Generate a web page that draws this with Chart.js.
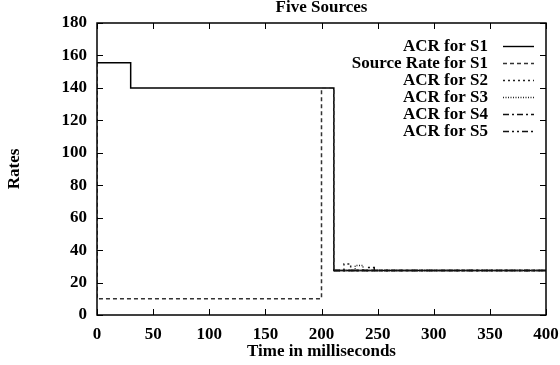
<!DOCTYPE html>
<html><head><meta charset="utf-8">
<script src="https://cdn.jsdelivr.net/npm/chart.js@4"></script>
<style>html,body{margin:0;padding:0;background:#fff}#c{display:block}</style>
</head><body>
<canvas id="c" width="560" height="365"></canvas>
<script>
const chartTitle = "Five Sources";
const xTitle = "Time in milliseconds";
const yTitle = "Rates";
const xTicks = [0, 50, 100, 150, 200, 250, 300, 350, 400];
const yTicks = [0, 20, 40, 60, 80, 100, 120, 140, 160, 180];

const seriesLabels = ["ACR for S1", "Source Rate for S1", "ACR for S2", "ACR for S3", "ACR for S4", "ACR for S5"];

const acrS1Time = [0, 30, 30, 211, 211, 400];
const acrS1Rate = [155.5, 155.5, 140, 140, 27.5, 27.5];

const srcS1Time = [0, 0, 200, 200, 211, 211, 400];
const srcS1Rate = [155.5, 10, 10, 140, 140, 27.5, 27.5];

const acrS2Time = [211, 220, 220, 226, 226, 400];
const acrS2Rate = [27.5, 27.5, 31.5, 31.5, 27.5, 27.5];

const acrS3Time = [211, 230, 230, 237, 237, 400];
const acrS3Rate = [27.5, 27.5, 30.5, 30.5, 27.5, 27.5];

const acrS4Time = [211, 241, 241, 247, 247, 400];
const acrS4Rate = [27.5, 27.5, 29.3, 29.3, 27.5, 27.5];

const acrS5Time = [211, 400];
const acrS5Rate = [27.5, 27.5];

const dashes = [[], [4, 3], [2, 3], [1, 1.5], [6, 3, 2, 3], [6, 3, 2, 3, 2, 3]];
const colors = ["#000", "#333", "#222", "#222", "#111", "#111"];

const pts = (xs, ys) => xs.map((x, i) => ({x, y: ys[i]}));
const seriesData = [
  pts(acrS1Time, acrS1Rate), pts(srcS1Time, srcS1Rate), pts(acrS2Time, acrS2Rate),
  pts(acrS3Time, acrS3Rate), pts(acrS4Time, acrS4Rate), pts(acrS5Time, acrS5Rate)
];
// draw S1 last so the solid line sits on top
const order = [5, 4, 3, 2, 1, 0];

const FONT = {family: "'Liberation Serif', 'Times New Roman', serif", size: 17, weight: 'bold'};
const fontStr = "bold 17px 'Liberation Serif', 'Times New Roman', serif";

const framePlugin = {
  id: 'frame',
  afterDatasetsDraw(chart) {
    const {ctx, chartArea: a, scales: {x, y}} = chart;
    ctx.save();
    ctx.strokeStyle = '#000';
    ctx.lineWidth = 1.5;
    ctx.strokeRect(a.left, a.top, a.right - a.left, a.bottom - a.top);
    ctx.lineWidth = 1;
    const L = 6;
    ctx.beginPath();
    xTicks.forEach(v => {
      const px = Math.round(x.getPixelForValue(v)) + 0.5;
      ctx.moveTo(px, a.bottom); ctx.lineTo(px, a.bottom - L);
      ctx.moveTo(px, a.top); ctx.lineTo(px, a.top + L);
    });
    yTicks.forEach(v => {
      const py = Math.round(y.getPixelForValue(v)) + 0.5;
      ctx.moveTo(a.left, py); ctx.lineTo(a.left + L, py);
      ctx.moveTo(a.right, py); ctx.lineTo(a.right - L, py);
    });
    ctx.stroke();
    // legend
    ctx.font = fontStr;
    ctx.fillStyle = '#000';
    ctx.textAlign = 'right';
    ctx.textBaseline = 'middle';
    seriesLabels.forEach((lab, i) => {
      const yy = 46 + 17 * i;
      ctx.fillText(lab, 488, yy + 1);
      ctx.save();
      ctx.setLineDash(dashes[i]);
      ctx.strokeStyle = colors[i];
      ctx.lineWidth = 1.4;
      ctx.beginPath();
      ctx.moveTo(503, yy + 0.5); ctx.lineTo(534, yy + 0.5);
      ctx.stroke();
      ctx.restore();
    });
    // title
    ctx.textAlign = 'center';
    ctx.fillText(chartTitle, (a.left + a.right) / 2, 8);
    ctx.restore();
  }
};

new Chart(document.getElementById('c'), {
  type: 'scatter',
  data: {
    datasets: order.map(i => ({
      label: seriesLabels[i],
      data: seriesData[i],
      showLine: true,
      borderColor: colors[i],
      borderWidth: 1.5,
      borderDash: dashes[i],
      pointRadius: 0,
      fill: false,
      tension: 0
    }))
  },
  options: {
    responsive: false,
    animation: false,
    devicePixelRatio: 1,
    layout: {padding: {left: 0, right: 14, top: 23, bottom: 0}},
    plugins: {legend: {display: false}, title: {display: false}, tooltip: {enabled: false}},
    scales: {
      x: {
        type: 'linear', min: 0, max: 400,
        afterBuildTicks: s => { s.ticks = xTicks.map(v => ({value: v})); },
        grid: {display: false, drawTicks: false},
        border: {display: false},
        ticks: {font: FONT, color: '#000', padding: 9, maxRotation: 0, autoSkip: false},
        title: {display: true, text: xTitle, font: FONT, color: '#000', padding: {top: 0, bottom: 3}},
        afterFit: s => { s.height = 50; s.paddingLeft = 0; s.paddingRight = 0; }
      },
      y: {
        type: 'linear', min: 0, max: 180,
        afterBuildTicks: s => { s.ticks = yTicks.map(v => ({value: v})); },
        grid: {display: false, drawTicks: false},
        border: {display: false},
        ticks: {font: FONT, color: '#000', padding: 10, autoSkip: false},
        title: {display: true, text: yTitle, font: FONT, color: '#000', padding: {top: 4, bottom: 0}},
        afterFit: s => { s.width = 97; s.paddingTop = 0; s.paddingBottom = 0; }
      }
    }
  },
  plugins: [framePlugin]
});
</script>
</body></html>
